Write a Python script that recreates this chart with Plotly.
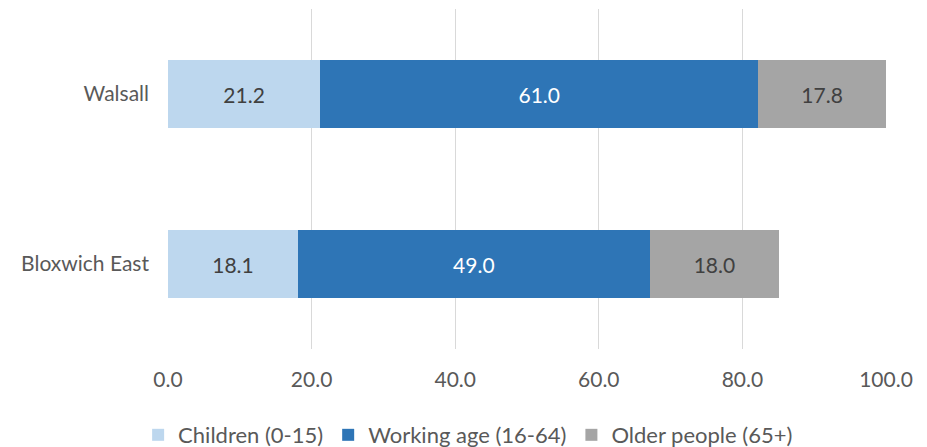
import plotly.graph_objects as go

areas = ["Bloxwich East", "Walsall"]
children = [18.1, 21.2]
working_age = [49.0, 61.0]
older = [18.0, 17.8]

series = [
    ("Children (0-15)", children, "#BDD7EE", "#404040"),
    ("Working age (16-64)", working_age, "#2E75B6", "white"),
    ("Older people (65+)", older, "#A5A5A5", "#404040"),
]

fig = go.Figure()
for name, vals, colour, txt in series:
    fig.add_trace(go.Bar(
        y=areas,
        x=vals,
        name=name,
        orientation="h",
        marker=dict(color=colour, line=dict(width=0)),
        text=[f"{v:.1f}" for v in vals],
        textposition="inside",
        insidetextanchor="middle",
        textfont=dict(color=txt, size=21),
    ))

# page body has an 8px margin, so the figure is sized to fit the window
fig.update_layout(
    barmode="stack",
    bargap=0.6,
    width=919,
    height=439,
    plot_bgcolor="white",
    paper_bgcolor="white",
    font=dict(family="Lato", size=21, color="#595959"),
    margin=dict(l=160, r=41, t=1, b=98, autoexpand=False),
    uniformtext=dict(minsize=21, mode="show"),
    showlegend=True,
    legend=dict(
        orientation="h",
        x=0.418, xanchor="center",
        y=-0.253, yanchor="middle",
        font=dict(size=22, color="#595959"),
        itemwidth=30,
        traceorder="normal",
    ),
    xaxis=dict(
        range=[0, 100],
        dtick=20,
        tickformat=".1f",
        showgrid=True,
        gridcolor="#D9D9D9",
        gridwidth=1,
        zeroline=False,
        showline=False,
        ticks="",
        ticklabelstandoff=16,
        automargin=False,
    ),
    yaxis=dict(
        showgrid=False,
        showline=False,
        ticks="",
        ticklabelstandoff=18,
        automargin=False,
    ),
)

fig.write_html("out.html")
